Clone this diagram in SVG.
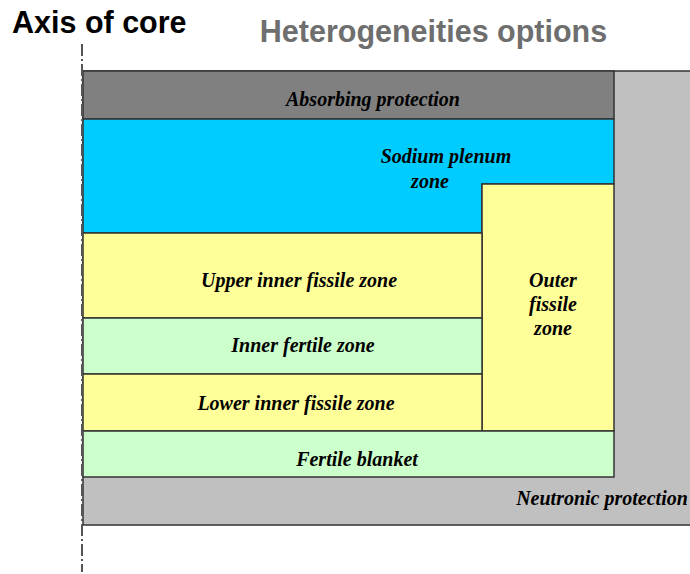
<svg xmlns="http://www.w3.org/2000/svg" width="690" height="574" viewBox="0 0 690 574">
<style>
.z{stroke:#333;stroke-width:1.5}
.t{font-family:"Liberation Serif",serif;font-weight:bold;font-style:italic;font-size:20px;fill:#000;text-anchor:middle}
</style>
<rect width="690" height="574" fill="#fff"/>
<text x="12" y="33" font-family="Liberation Sans,sans-serif" font-weight="bold" font-size="30.5" fill="#000">Axis of core</text>
<text x="433.5" y="42" font-family="Liberation Sans,sans-serif" font-weight="bold" font-size="30.5" fill="#6e6e6e" text-anchor="middle">Heterogeneities options</text>
<g id="neutronic"><rect class="z" x="83" y="71" width="620" height="454" fill="#c0c0c0"/><text class="t" x="602" y="505">Neutronic protection</text></g>
<g id="absorbing"><rect class="z" x="83" y="71" width="531" height="48" fill="#808080"/><text class="t" x="373" y="106">Absorbing protection</text></g>
<g id="sodium"><path class="z" d="M83 119H614V184H482V233H83Z" fill="#00ccff"/><text class="t" x="446" y="163">Sodium plenum</text><text class="t" x="430" y="188">zone</text></g>
<g id="outer"><rect class="z" x="482" y="184" width="132" height="247" fill="#ffff99"/><text class="t" x="553" y="287">Outer</text><text class="t" x="553" y="311">fissile</text><text class="t" x="553" y="335">zone</text></g>
<g id="upper"><rect class="z" x="83" y="233" width="399" height="85" fill="#ffff99"/><text class="t" x="299" y="287">Upper inner fissile zone</text></g>
<g id="innerfertile"><rect class="z" x="83" y="318" width="399" height="56" fill="#ccffcc"/><text class="t" x="303" y="352">Inner fertile zone</text></g>
<g id="lower"><rect class="z" x="83" y="374" width="399" height="57" fill="#ffff99"/><text class="t" x="296" y="410">Lower inner fissile zone</text></g>
<g id="blanket"><rect class="z" x="83" y="431" width="531" height="46" fill="#ccffcc"/><text class="t" x="357" y="466">Fertile blanket</text></g>
<g id="connectors"><line x1="82" y1="44" x2="82" y2="572" stroke="#555" stroke-width="2" stroke-dasharray="12 3 2 3"/></g>
</svg>
